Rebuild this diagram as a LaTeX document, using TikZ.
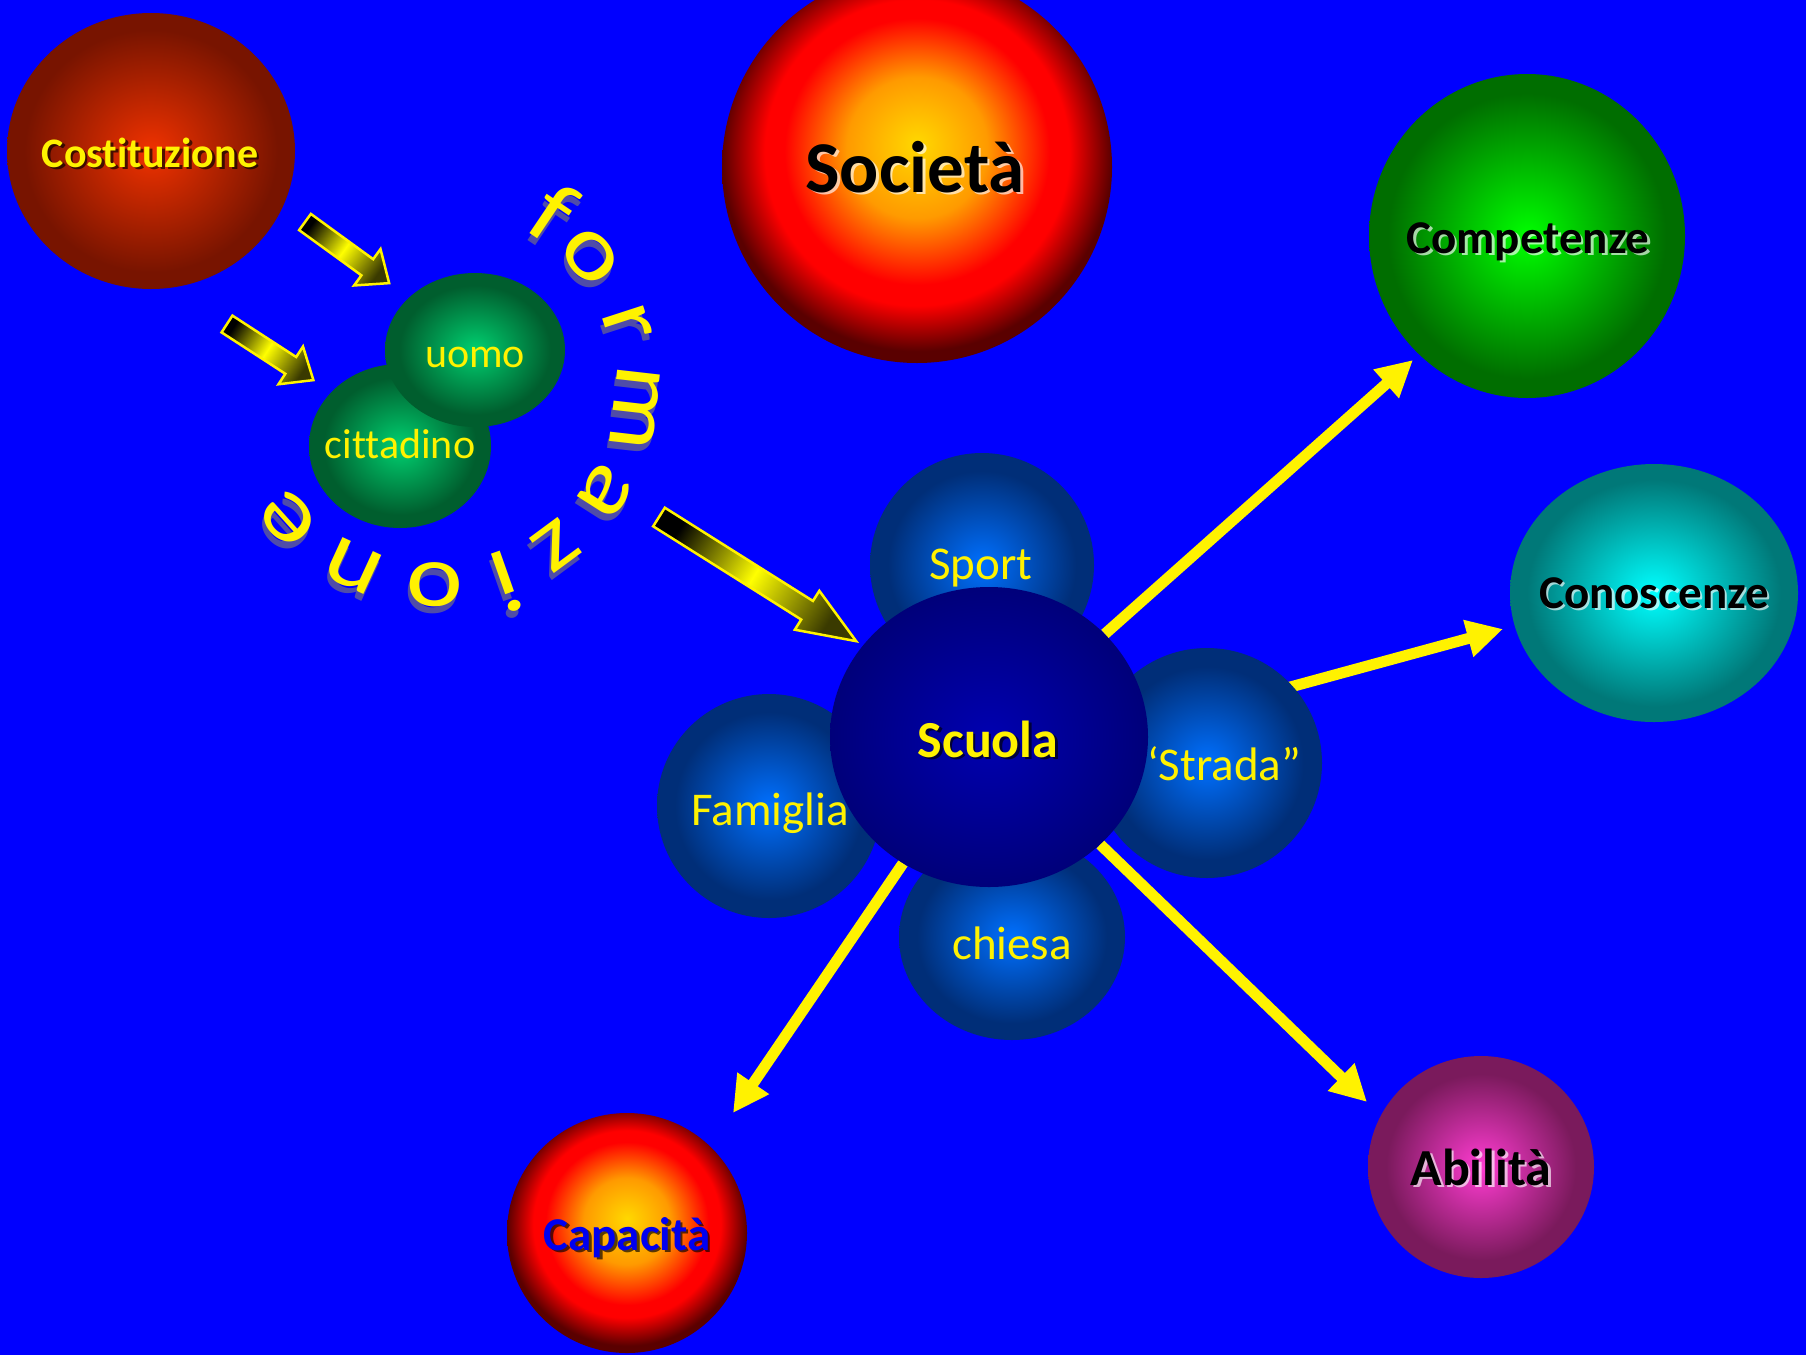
\documentclass[tikz,border=0pt]{standalone}
\usepackage{fontspec}
\setmainfont{Carlito}[Ligatures=NoCommon]
\usepackage{graphicx}
\usetikzlibrary{shapes.geometric,arrows.meta}
\pgfdeclarelayer{bg}
\pgfdeclarelayer{lines}
\pgfsetlayers{bg,lines,main}

\definecolor{bgblue}{HTML}{0000FF}
\definecolor{costC}{HTML}{F03200}
\definecolor{costE}{HTML}{781400}
\definecolor{sunY}{HTML}{FFD800}
\definecolor{sunO}{HTML}{FF9A00}
\definecolor{sunR}{HTML}{FF0000}
\definecolor{sunE}{HTML}{5A0000}
\definecolor{compC}{HTML}{00FF00}
\definecolor{compE}{HTML}{006E00}
\definecolor{conC}{HTML}{00FFFF}
\definecolor{conE}{HTML}{007878}
\definecolor{abiC}{HTML}{FF3CD2}
\definecolor{abiE}{HTML}{7A1A5C}
\definecolor{satC}{HTML}{0070FF}
\definecolor{satE}{HTML}{002E78}
\definecolor{scuC}{HTML}{0000B0}
\definecolor{scuE}{HTML}{00007A}
\definecolor{uomC}{HTML}{00D070}
\definecolor{uomE}{HTML}{005E2E}
\definecolor{arrE}{HTML}{3A3A00}
\definecolor{capT}{HTML}{0000F0}

\pgfdeclareradialshading{shCost}{\pgfpoint{0bp}{0bp}}{color(0bp)=(costC); color(22bp)=(costE); color(50bp)=(costE)}
\pgfdeclareradialshading{shSun}{\pgfpoint{0bp}{3bp}}{color(0bp)=(sunY); color(9bp)=(sunO); color(17bp)=(sunR); color(19.5bp)=(sunR); color(25bp)=(sunE); color(50bp)=(sunE)}
\pgfdeclareradialshading{shComp}{\pgfpoint{0bp}{0bp}}{color(0bp)=(compC); color(22bp)=(compE); color(50bp)=(compE)}
\pgfdeclareradialshading{shCon}{\pgfpoint{0bp}{0bp}}{color(0bp)=(conC); color(22bp)=(conE); color(50bp)=(conE)}
\pgfdeclareradialshading{shAbi}{\pgfpoint{0bp}{0bp}}{color(0bp)=(abiC); color(21bp)=(abiE); color(50bp)=(abiE)}
\pgfdeclareradialshading{shSat}{\pgfpoint{0bp}{0bp}}{color(0bp)=(satC); color(21bp)=(satE); color(50bp)=(satE)}
\pgfdeclareradialshading{shScu}{\pgfpoint{0bp}{0bp}}{color(0bp)=(scuC); color(25bp)=(scuE); color(50bp)=(scuE)}
\pgfdeclareradialshading{shUom}{\pgfpoint{0bp}{0bp}}{color(0bp)=(uomC); color(21bp)=(uomE); color(50bp)=(uomE)}

\tikzset{
  ball/.style={ellipse,inner sep=0pt,draw=none,shade,shading=#1},
  lab/.style={inner sep=0pt,anchor=base},
  yarrow/.style={draw=yellow,line width=11pt,-{Triangle[length=36pt 0 0,width=36pt 0 0]}},
  barrow/.style={draw=yellow,line width=2.5pt,left color=black,right color=arrE,middle color=yellow},
  arcl/.style={inner sep=0pt,anchor=base,text=yellow,font=\fontsize{90}{92}\selectfont},
  arcsh/.style={arcl,text=gray!70!olive,opacity=.55},
  reg/.style={lab,text=yellow,font=\fontsize{47}{50}\selectfont},
  regs/.style={lab,text=yellow,font=\fontsize{42}{45}\selectfont}
}

\newcommand\shlabel[7]{%
  \node[lab,font=#4,text=#6,opacity=.65,xshift=2.6pt,yshift=-2.6pt] (#1s) at (#2,#3) {#7};
  \node[lab,font=#4,text=#5] (#1) at (#2,#3) {#7};}

\newcommand\blockarr[8]{%
  \begin{scope}[shift={(#1,#2)},rotate=-#3]
    \path[barrow,shading angle=#8] (0,-#5) -- ({#4-#7},-#5) -- ({#4-#7},-#6) -- (#4,0)
      -- ({#4-#7},#6) -- ({#4-#7},#5) -- (0,#5) -- cycle;
  \end{scope}}

\begin{document}
\begin{tikzpicture}[x=1pt,y=-1pt]
\useasboundingbox (0,0) rectangle (1806,1355);
\begin{pgfonlayer}{bg}
  \fill[bgblue] (0,0) rectangle (1806,1355);
\end{pgfonlayer}

% balls
\node[ball=shCost, minimum width=288pt, minimum height=276pt] (costit) at (151,151) {};
\node[ball=shSun, minimum width=390pt, minimum height=392pt] (societa) at (917,167) {};
\node[ball=shComp, minimum width=316pt, minimum height=324pt] (compet) at (1527,236) {};
\node[ball=shCon, minimum width=288pt, minimum height=258pt] (conosc) at (1654,593) {};
\node[ball=shAbi, minimum width=226pt, minimum height=222pt] (abilita) at (1481,1167) {};
\node[ball=shSun, minimum width=240pt, minimum height=240pt] (capac) at (627,1233) {};
\node[ball=shSat, minimum width=224pt, minimum height=224pt] (sport) at (982,565) {};
\node[ball=shSat, minimum width=224pt, minimum height=224pt] (famiglia) at (769,806) {};
\node[ball=shSat, minimum width=230pt, minimum height=230pt] (strada) at (1207,763) {};
\node[ball=shSat, minimum width=226pt, minimum height=206pt] (chiesa) at (1012,937) {};
\node[ball=shScu, minimum width=318pt, minimum height=300pt] (scuola) at (989,737) {};
\node[ball=shUom, minimum width=182pt, minimum height=164pt] (cittadino) at (400,446) {};
\node[ball=shUom, minimum width=180pt, minimum height=154pt] (uomo) at (475,350) {};

% straight arrows (behind the balls)
\coordinate (tComp) at (1413,360);
\coordinate (sCono) at (1140,728);
\coordinate (tCono) at (1503,629);
\coordinate (tCapa) at (733,1113);
\coordinate (tAbil) at (1367,1102);
\begin{pgfonlayer}{lines}
  \draw[yarrow] (scuola) -- (tComp);
  \draw[yarrow] (sCono) -- (tCono);
  \draw[yarrow] (scuola) -- (tCapa);
  \draw[yarrow] (scuola) -- (tAbil);
\end{pgfonlayer}

% block arrows
\blockarr{305}{222}{36}{104}{10}{22.5}{27}{54}
\blockarr{227}{324}{33}{103}{10}{22.5}{27}{57}
\blockarr{659}{517}{32.2}{233}{11}{23}{58}{57.8}

% arc text "formazione"
\foreach \ch/\ang [count=\i] in {f/56,o/40,r/18,m/-6.5,a/-32.5,z/-53.5,i/-70.6,o/-90.6,n/-114.7,e/-138}{
  \node[arcsh, rotate=\ang-90] (fs\i) at ({437+178*cos(\ang)-2},{385-178*sin(\ang)+7}) {\scalebox{1.2}[1]{\ch}};
  \node[arcl, rotate=\ang-90] (fl\i) at ({437+178*cos(\ang)},{385-178*sin(\ang)}) {\scalebox{1.2}[1]{\ch}};
}

% labels
\shlabel{lcostit}{150}{167}{\bfseries\fontsize{42}{45}\selectfont}{yellow}{black}{Costituzione}
\shlabel{lsocieta}{915}{192}{\bfseries\fontsize{73}{76}\selectfont}{black}{white}{Società}
\shlabel{lcompet}{1528}{253}{\bfseries\fontsize{47}{50}\selectfont}{black}{white}{Competenze}
\shlabel{lconosc}{1654}{608}{\bfseries\fontsize{47}{50}\selectfont}{black}{white}{Conoscenze}
\shlabel{labilita}{1481}{1185}{\bfseries\fontsize{52}{55}\selectfont}{black}{white}{Abilità}
\shlabel{lcapac}{627}{1250}{\bfseries\fontsize{47}{50}\selectfont}{capT}{black}{Capacità}
\shlabel{lscuola}{988}{757}{\bfseries\fontsize{52}{55}\selectfont}{yellow}{black}{Scuola}

\node[reg] (lsport) at (981,579) {Sport};
\node[reg] (lstrada) at (1224,780) {‘Strada”};
\node[reg] (lfamiglia) at (770,825) {Famiglia};
\node[reg] (lchiesa) at (1012,959) {chiesa};
\node[regs] (luomo) at (475,367) {uomo};
\node[regs] (lcittadino) at (400,458) {cittadino};
\end{tikzpicture}
\end{document}
